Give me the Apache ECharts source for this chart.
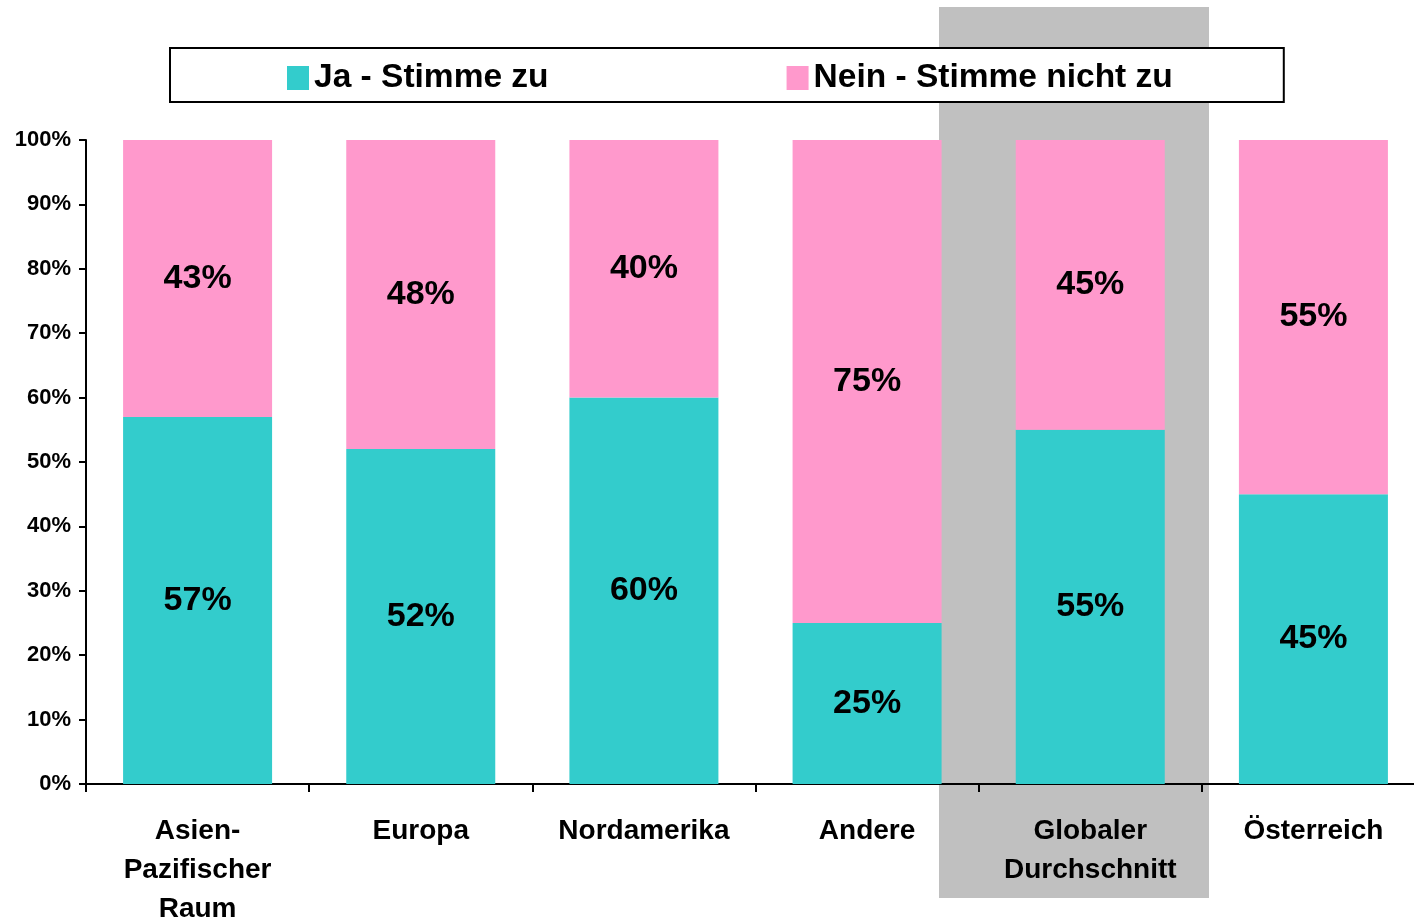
<!DOCTYPE html>
<html>
<head>
<meta charset="utf-8">
<script src="https://cdn.jsdelivr.net/npm/echarts@6/dist/echarts.min.js"></script>
<style>
  html, body { margin: 0; padding: 0; background: #fff; }
  #chart { width: 1414px; height: 922px; }
</style>
</head>
<body>
<div id="chart"></div>
<script>
// data
const categories = ['Asien-\nPazifischer\nRaum', 'Europa', 'Nordamerika', 'Andere', 'Globaler\nDurchschnitt', 'Österreich'];
const jaValues = [57, 52, 60, 25, 55, 45];
const neinValues = [43, 48, 40, 75, 45, 55];
const yTicks = { min: 0, max: 100, interval: 10 };

const font = 'Liberation Sans, Arial, Helvetica, sans-serif';

const labelStyle = {
    show: true,
    position: 'inside',
    formatter: '{c}%',
    color: '#000',
    fontFamily: font,
    fontWeight: 'bold',
    fontSize: 34
};

const chart = echarts.init(document.getElementById('chart'));

const option = {
    animation: false,
    backgroundColor: '#fff',
    graphic: [{
        // grey highlight behind "Globaler Durchschnitt"
        type: 'rect',
        z: -10,
        shape: { x: 939, y: 7, width: 270, height: 891 },
        style: { fill: '#c0c0c0' }
    }],
    legend: {
        left: 170,
        top: 48,
        padding: [13, 111, 7, 117],
        itemGap: 238,
        itemWidth: 22,
        itemHeight: 24,
        borderColor: '#000',
        borderWidth: 2,
        backgroundColor: '#fff',
        icon: 'rect',
        textStyle: {
            fontFamily: font,
            fontWeight: 'bold',
            fontSize: 33.5,
            color: '#000',
            lineHeight: 34
        },
        data: ['Ja - Stimme zu', 'Nein - Stimme nicht zu']
    },
    grid: {
        left: 86,
        top: 140,
        width: 1339,
        height: 644,
        containLabel: false,
        outerBoundsMode: 'none'
    },
    xAxis: {
        type: 'category',
        data: categories,
        axisLine: { lineStyle: { color: '#000', width: 2 } },
        axisTick: { show: true, length: 8, lineStyle: { color: '#000', width: 2 } },
        axisLabel: {
            interval: 0,
            margin: 28,
            fontFamily: font,
            fontWeight: 'bold',
            fontSize: 28,
            lineHeight: 39,
            color: '#000'
        }
    },
    yAxis: {
        type: 'value',
        min: yTicks.min,
        max: yTicks.max,
        interval: yTicks.interval,
        splitLine: { show: false },
        axisLine: { show: true, lineStyle: { color: '#000', width: 2 } },
        axisTick: { show: true, length: 7, lineStyle: { color: '#000', width: 2 } },
        axisLabel: {
            formatter: '{value}%',
            margin: 15,
            fontFamily: font,
            fontWeight: 'bold',
            fontSize: 22,
            color: '#000'
        }
    },
    series: [{
        name: 'Ja - Stimme zu',
        type: 'bar',
        stack: 'total',
        barWidth: 149,
        itemStyle: { color: '#33cccc' },
        label: labelStyle,
        data: jaValues
    }, {
        name: 'Nein - Stimme nicht zu',
        type: 'bar',
        stack: 'total',
        barWidth: 149,
        itemStyle: { color: '#ff99cc' },
        label: labelStyle,
        data: neinValues
    }]
};

chart.setOption(option);
</script>
</body>
</html>
